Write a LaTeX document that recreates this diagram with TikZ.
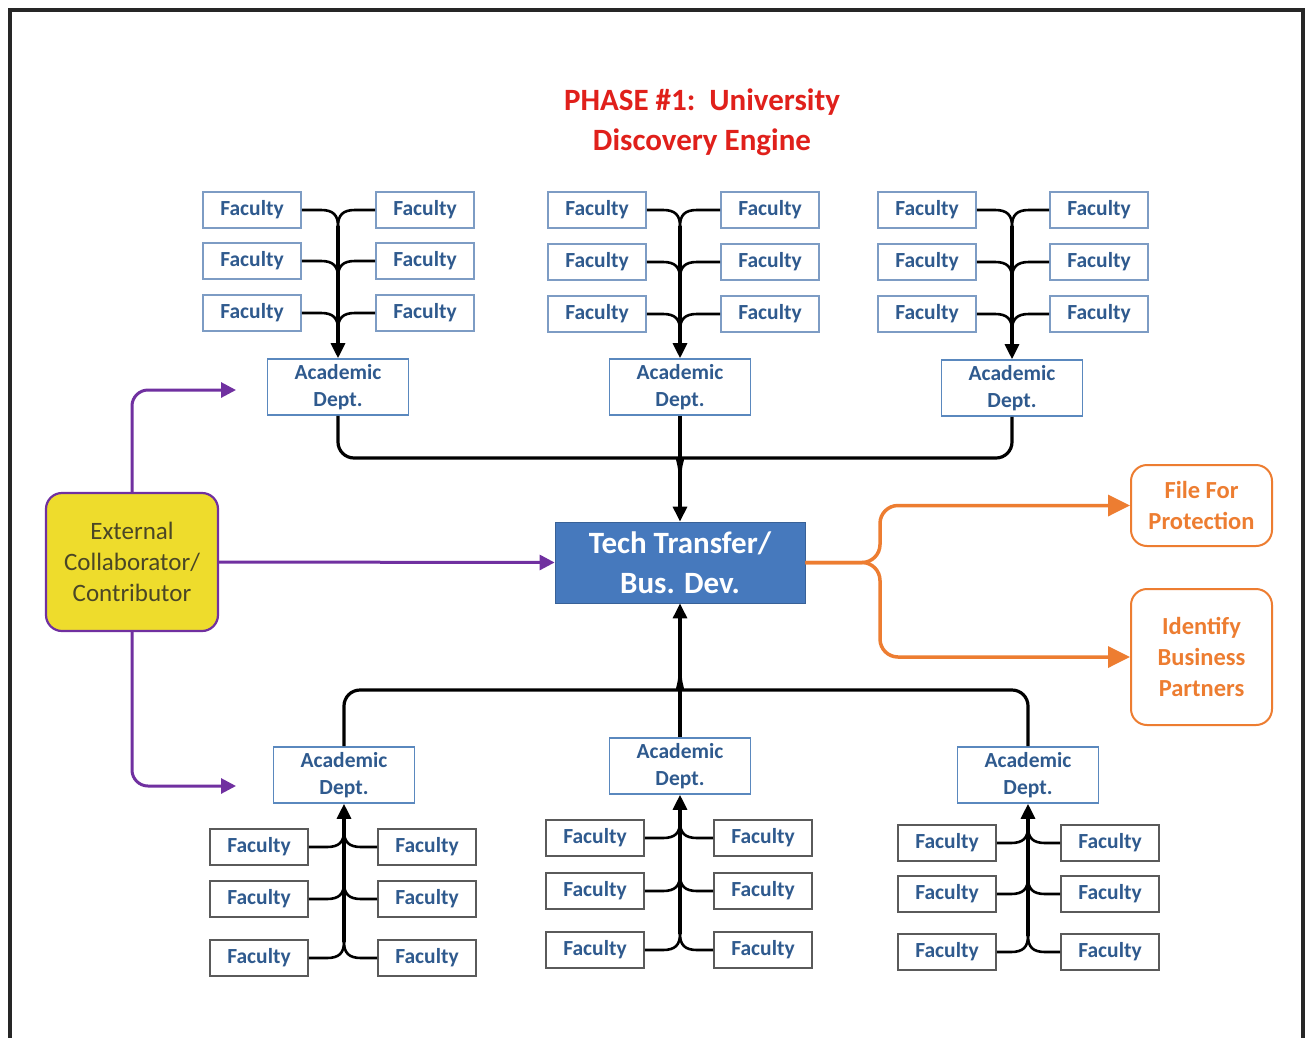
\documentclass[tikz,border=0pt]{standalone}
\usepackage{fontspec}
\setmainfont{Carlito}
\usetikzlibrary{arrows.meta}
\definecolor{facblue}{HTML}{2F5A8E}
\definecolor{facborder}{HTML}{7D9CC4}
\definecolor{facgray}{HTML}{5A5A5A}
\definecolor{acadborder}{HTML}{5A88BE}
\definecolor{ttblue}{HTML}{4679BD}
\definecolor{titlered}{HTML}{E0201B}
\definecolor{purp}{HTML}{7030A0}
\definecolor{yel}{HTML}{EEDC2C}
\definecolor{extext}{HTML}{4A4626}
\definecolor{orng}{HTML}{ED7D31}
\tikzset{
  fac/.style={draw=facborder, line width=1.6pt, minimum width=98pt, minimum height=36pt, inner sep=0pt, fill=white, text=facblue, font=\bfseries\fontsize{21.5}{24}\selectfont},
  facb/.style={fac, draw=facgray},
  acad/.style={draw=acadborder, line width=1.6pt, minimum width=141pt, minimum height=56pt, inner sep=0pt, fill=white, text=facblue, align=center, font=\bfseries\fontsize{21.5}{27}\selectfont},
  br/.style={line width=2.6pt, black},
  trunk/.style={line width=3.2pt, black},
  blk/.style={-{Triangle[length=15pt,width=14pt]}},
  purpline/.style={line width=3pt, draw=purp, -{Triangle[length=15pt,width=15pt]}, rounded corners=16pt},
  orline/.style={line width=3.5pt, draw=orng, -{Triangle[length=22pt,width=21pt]}, rounded corners=18pt},
  outbox/.style={draw=orng, line width=2pt, rounded corners=16pt, minimum width=141pt, align=center, text=orng, font=\bfseries\fontsize{24.5}{31}\selectfont},
}
\newcommand\facgroup[7]{%
  \foreach \yy [count=\i] in {#5} {
    \node[#7] (#1L\i) at (#3,\yy) {Faculty};
    \node[#7] (#1R\i) at (#4,\yy) {Faculty};
    \draw[br] (#1L\i.east) -- (#2-17,\yy) .. controls (#2-5,\yy) and (#2,\yy #6 5) .. (#2,\yy #6 16);
    \draw[br] (#1R\i.west) -- (#2+17,\yy) .. controls (#2+5,\yy) and (#2,\yy #6 5) .. (#2,\yy #6 16);
  }}
\begin{document}
\begin{tikzpicture}[x=1pt,y=-1pt]
\useasboundingbox (0,0) rectangle (1307,1037);
\fill[white] (0,0) rectangle (1307,1037);
% frame
\draw[line width=3.5pt, black!85] (10,1040) -- (10,10) -- (1303,10) -- (1303,1040);

% title
\node[text=titlered, align=center, font=\bfseries\fontsize{31}{40}\selectfont] (title) at (702,122) {PHASE \#1:\ \ University\\Discovery Engine};

% top faculty groups
\facgroup{ga}{338}{252}{425}{210,261,313}{+}{fac}
\facgroup{gb}{680}{597}{770}{210,262,314}{+}{fac}
\facgroup{gc}{1012}{927}{1099}{210,262,314}{+}{fac}

% top academic depts
\node[acad] (a1) at (338,387) {Academic\\Dept.};
\node[acad] (a2) at (680,387) {Academic\\Dept.};
\node[acad] (a3) at (1012,388) {Academic\\Dept.};

\coordinate (ta) at (338,226);
\coordinate (tb) at (680,226);
\coordinate (tc) at (1012,226);
\draw[trunk,blk] (ta) -- (a1.north);
\draw[trunk,blk] (tb) -- (a2.north);
\draw[trunk,blk] (tc) -- (a3.north);

% bottom faculty groups
\facgroup{gd}{344}{259}{427}{847,899,958}{-}{facb}
\facgroup{ge}{680}{595}{763}{838,891,950}{-}{facb}
\facgroup{gf}{1028}{947}{1110}{843,894,952}{-}{facb}

% bottom academic depts
\node[acad] (b1) at (344,775) {Academic\\Dept.};
\node[acad] (b2) at (680,766) {Academic\\Dept.};
\node[acad] (b3) at (1028,775) {Academic\\Dept.};

\coordinate (td) at (344,942);
\coordinate (te) at (680,934);
\coordinate (tf) at (1028,936);
\draw[trunk,blk] (td) -- (b1.south);
\draw[trunk,blk] (te) -- (b2.south);
\draw[trunk,blk] (tf) -- (b3.south);

% Tech transfer
\node[fill=ttblue, draw=ttblue!80!black, line width=0.8pt, minimum width=250pt, minimum height=81pt, inner sep=0pt, align=center, text=white, font=\bfseries\fontsize{31}{40}\selectfont] (tt) at (680,562.5) {Tech Transfer/\\Bus. Dev.};

% top to tech transfer
\draw[trunk, rounded corners=16pt] (a1.south) |- (662,458) .. controls (676,458) and (680,463) .. (680,476);
\draw[trunk, rounded corners=16pt] (a3.south) |- (698,458) .. controls (684,458) and (680,463) .. (680,476);
\draw[trunk,blk] (a2.south) -- (tt.north);

% bottom to tech transfer
\draw[trunk, rounded corners=16pt] (b1.north) |- (662,690) .. controls (676,690) and (680,685) .. (680,672);
\draw[trunk, rounded corners=16pt] (b3.north) |- (698,690) .. controls (684,690) and (680,685) .. (680,672);
\draw[trunk,blk] (b2.north) -- (tt.south);

% external collaborator
\node[fill=yel, draw=purp, line width=2.2pt, rounded corners=16pt, minimum width=172pt, minimum height=138pt, align=center, text=extext, font=\fontsize{25}{31}\selectfont] (ext) at (132,562) {External\\Collaborator/\\Contributor};
\coordinate (pu) at (236,390);
\coordinate (pd) at (236,786);
\draw[purpline] (ext.north) |- (pu);
\draw[purpline] (ext.south) |- (pd);
\draw[purpline] (ext.east) -- (tt.west);

% outputs
\node[outbox, minimum height=81pt] (fp) at (1201.5,505.5) {File For\\Protection};
\node[outbox, minimum height=136pt] (ib) at (1201.5,657) {Identify\\Business\\Partners};
\draw[orline] (tt.east) -- (880,562.5) |- (fp.west);
\draw[orline] (tt.east) -- (880,562.5) |- (ib.west);
\end{tikzpicture}
\end{document}
